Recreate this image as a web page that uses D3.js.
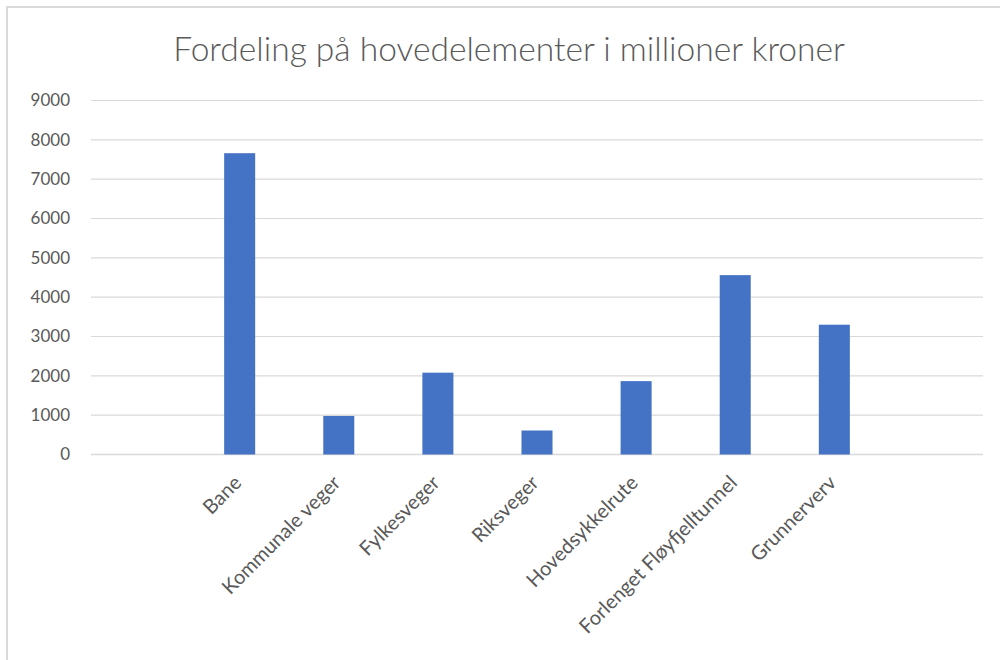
<!doctype html>
<html>
<head>
<meta charset="utf-8">
<script src="https://d3js.org/d3.v7.min.js"></script>
<style>
  body { margin: 0; background: #fff; }
  text { font-family: Lato, "Open Sans", sans-serif; fill: #595959; }
</style>
</head>
<body>
<svg width="1000" height="660"></svg>
<script>
// data (millioner kroner); first and last slots are empty in the original
var categories = ["", "Bane", "Kommunale veger", "Fylkesveger", "Riksveger",
                  "Hovedsykkelrute", "Forlenget Fløyfjelltunnel", "Grunnerverv", ""];
var values = [null, 7660, 980, 2080, 610, 1865, 4560, 3300, null];
var yTicks = [0, 1000, 2000, 3000, 4000, 5000, 6000, 7000, 8000, 9000];
var title = "Fordeling på hovedelementer i millioner kroner";

var svg = d3.select("svg");

// chart frame
svg.append("path")
   .attr("d", "M7,660 V7 H1000")
   .attr("fill", "none")
   .attr("stroke", "#d9d9d9")
   .attr("stroke-width", 2);

var plotLeft = 91, plotRight = 983, plotTop = 100.5, plotBottom = 454.5;

var x = d3.scaleBand()
          .domain(d3.range(categories.length))
          .range([plotLeft, plotRight])
          .paddingInner(0.687)
          .paddingOuter(0.3435);

var y = d3.scaleLinear().domain([0, 9000]).range([plotBottom, plotTop]);

// title, fitted to the width it has in the picture
var t = svg.append("text")
   .attr("x", 509)
   .attr("y", 61)
   .attr("text-anchor", "middle")
   .attr("font-weight", 300)
   .attr("font-size", 32)
   .text(title);
var tw = t.node().getComputedTextLength();
t.attr("font-size", 32 * 672 / tw);

// gridlines
svg.append("g")
   .selectAll("line")
   .data(yTicks)
   .enter().append("line")
   .attr("x1", plotLeft)
   .attr("x2", plotRight)
   .attr("y1", function(d) { return y(d); })
   .attr("y2", function(d) { return y(d); })
   .attr("stroke", "#d9d9d9")
   .attr("stroke-width", function(d) { return d === 0 ? 1.5 : 1.2; });

// y axis labels
var yAxis = svg.append("g")
   .attr("transform", "translate(" + (plotLeft - 21) + ",0)")
   .call(d3.axisLeft(y).tickValues(yTicks).tickSize(0).tickPadding(0).tickFormat(d3.format("d")));
yAxis.select(".domain").remove();
yAxis.selectAll("text")
   .attr("font-size", 17)
   .attr("fill", "#595959")
   .style("font-family", "Lato, sans-serif");

// bars
svg.append("g")
   .selectAll("rect")
   .data(values.map(function(v, i) { return { i: i, v: v }; }).filter(function(d) { return d.v != null; }))
   .enter().append("rect")
   .attr("x", function(d) { return x(d.i); })
   .attr("width", x.bandwidth())
   .attr("y", function(d) { return y(d.v); })
   .attr("height", function(d) { return y(0) - y(d.v); })
   .attr("fill", "#4472c4");

// rotated category labels
svg.append("g")
   .selectAll("text")
   .data(categories.map(function(c, i) { return { i: i, c: c }; }).filter(function(d) { return d.c !== ""; }))
   .enter().append("text")
   .attr("transform", function(d) {
       return "translate(" + (x(d.i) + x.bandwidth() / 2 + 3) + ",484) rotate(-45)";
   })
   .attr("text-anchor", "end")
   .attr("font-size", 20)
   .text(function(d) { return d.c; });
</script>
</body>
</html>
